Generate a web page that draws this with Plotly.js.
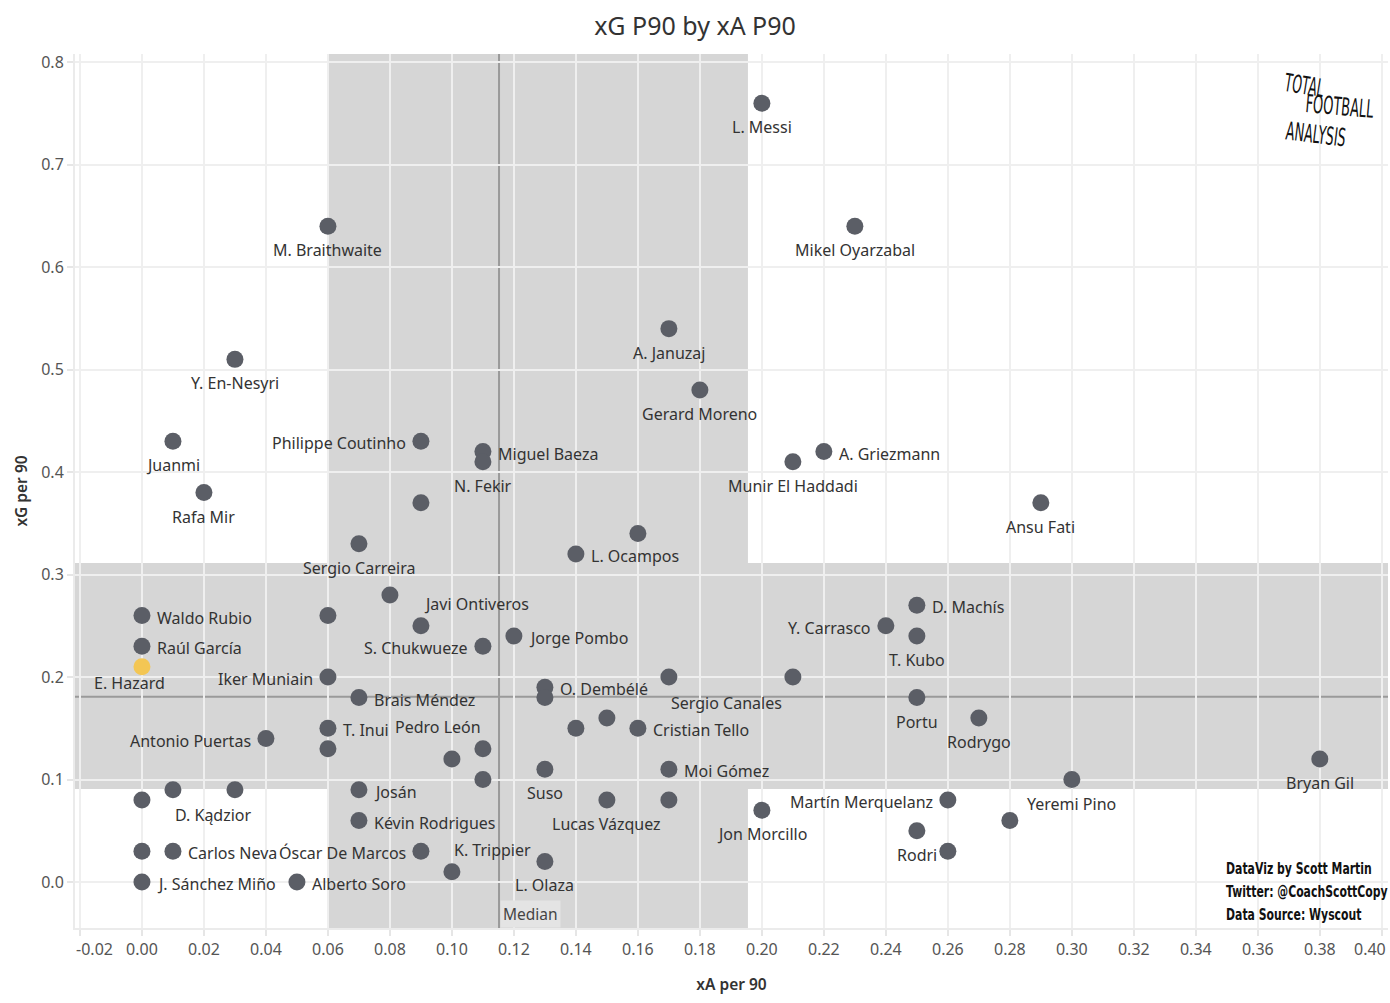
<!DOCTYPE html>
<html>
<head>
<meta charset="utf-8">
<script src="https://cdn.plot.ly/plotly-3.0.1.min.js"></script>
<style>
  html, body { margin: 0; padding: 0; background: #ffffff; }
  #chart { width: 1390px; height: 1003px; }
</style>
</head>
<body>
<div id="chart"></div>
<script>
// ---- Data ----
const players = [
  "L. Messi", "Mikel Oyarzabal", "M. Braithwaite", "A. Januzaj", "Y. En-Nesyri",
  "Gerard Moreno", "Juanmi", "Philippe Coutinho", "Miguel Baeza", "N. Fekir",
  "A. Griezmann", "Munir El Haddadi", "Rafa Mir", "Player 14", "Ansu Fati",
  "Player 16", "Sergio Carreira", "L. Ocampos", "Javi Ontiveros", "Waldo Rubio",
  "Player 21", "D. Machís", "Player 23", "Jorge Pombo", "Y. Carrasco",
  "T. Kubo", "Raúl García", "S. Chukwueze", "E. Hazard", "Iker Muniain",
  "Sergio Canales", "Player 32", "O. Dembélé", "Player 34", "Brais Méndez",
  "Portu", "Rodrygo", "T. Inui", "Pedro León", "Player 40",
  "Antonio Puertas", "Player 42", "Player 43", "Cristian Tello", "Player 45",
  "Player 47", "Suso", "Moi Gómez", "Bryan Gil", "Yeremi Pino",
  "D. Kądzior", "Player 53", "Josán", "Player 55", "Martín Merquelanz",
  "Lucas Vázquez", "Player 58", "Jon Morcillo", "Kévin Rodrigues", "Player 61",
  "Rodri", "Player 63", "Player 64", "Carlos Neva", "Óscar De Marcos",
  "K. Trippier", "L. Olaza", "J. Sánchez Miño", "Alberto Soro"
];
const xaP90 = [
  0.20, 0.23, 0.06, 0.17, 0.03,
  0.18, 0.01, 0.09, 0.11, 0.11,
  0.22, 0.21, 0.02, 0.09, 0.29,
  0.16, 0.07, 0.14, 0.08, 0.00,
  0.06, 0.25, 0.09, 0.12, 0.24,
  0.25, 0.00, 0.11, 0.00, 0.06,
  0.17, 0.21, 0.13, 0.13, 0.07,
  0.25, 0.27, 0.06, 0.11, 0.06,
  0.04, 0.14, 0.15, 0.16, 0.10,
  0.11, 0.13, 0.17, 0.38, 0.30,
  0.01, 0.03, 0.07, 0.00, 0.26,
  0.15, 0.17, 0.20, 0.07, 0.28,
  0.25, 0.26, 0.00, 0.01, 0.09,
  0.10, 0.13, 0.00, 0.05
];
const xgP90 = [
  0.76, 0.64, 0.64, 0.54, 0.51,
  0.48, 0.43, 0.43, 0.42, 0.41,
  0.42, 0.41, 0.38, 0.37, 0.37,
  0.34, 0.33, 0.32, 0.28, 0.26,
  0.26, 0.27, 0.25, 0.24, 0.25,
  0.24, 0.23, 0.23, 0.21, 0.20,
  0.20, 0.20, 0.19, 0.18, 0.18,
  0.18, 0.16, 0.15, 0.13, 0.13,
  0.14, 0.15, 0.16, 0.15, 0.12,
  0.10, 0.11, 0.11, 0.12, 0.10,
  0.09, 0.09, 0.09, 0.08, 0.08,
  0.08, 0.08, 0.07, 0.06, 0.06,
  0.05, 0.03, 0.03, 0.03, 0.03,
  0.01, 0.02, 0.00, 0.00
];
const highlighted = "E. Hazard";
const medianXA = 0.1152;
const medianXG = 0.1808;
const bandXA = [0.06, 0.1955];
const bandXG = [0.0907, 0.3112];
const xTickVals = [-0.02, 0.00, 0.02, 0.04, 0.06, 0.08, 0.10, 0.12, 0.14, 0.16, 0.18, 0.20, 0.22, 0.24, 0.26, 0.28, 0.30, 0.32, 0.34, 0.36, 0.38, 0.40];
const yTickVals = [0.0, 0.1, 0.2, 0.3, 0.4, 0.5, 0.6, 0.7, 0.8];
const creditLines = ["DataViz by Scott Martin", "Twitter: @CoachScottCopy", "Data Source: Wyscout"];
const logoLines = ["TOTAL", "FOOTBALL", "ANALYSIS"];

// ---- Label placement (style only) ----
const labelStyle = {
  "L. Messi": "b", "Mikel Oyarzabal": "b", "M. Braithwaite": "b", "A. Januzaj": "b",
  "Y. En-Nesyri": "b", "Gerard Moreno": "b", "Juanmi": "b", "Philippe Coutinho": "l",
  "Miguel Baeza": "r", "N. Fekir": "b", "A. Griezmann": "r", "Munir El Haddadi": "b",
  "Rafa Mir": "b", "Ansu Fati": "b", "Sergio Carreira": "b", "L. Ocampos": "r",
  "Javi Ontiveros": ["left", 32, 9], "Waldo Rubio": "r", "D. Machís": "r",
  "Jorge Pombo": "r", "Y. Carrasco": "l", "T. Kubo": "b", "Raúl García": "r",
  "S. Chukwueze": "l", "E. Hazard": ["center", -12, 16], "Iker Muniain": "l",
  "Sergio Canales": ["left", 0, 26], "O. Dembélé": "r", "Brais Méndez": "r",
  "Portu": "b", "Rodrygo": "b", "T. Inui": "r", "Pedro León": ["right", 0, -22],
  "Antonio Puertas": "l", "Cristian Tello": "r", "Suso": "b", "Moi Gómez": "r",
  "Bryan Gil": "b", "Yeremi Pino": "b", "D. Kądzior": ["left", 0, 25], "Josán": "r",
  "Martín Merquelanz": "l", "Lucas Vázquez": "b", "Jon Morcillo": "b",
  "Kévin Rodrigues": "r", "Rodri": "b", "Carlos Neva": "r", "Óscar De Marcos": "l",
  "K. Trippier": ["left", 0, -22], "L. Olaza": "b", "J. Sánchez Miño": "r", "Alberto Soro": "r"
};
const presets = { b: ["center", 0, 24], r: ["left", 13, 2], l: ["right", -13, 2] };

const baseFamily = "Noto Sans, Open Sans, sans-serif";
const labelFont = { family: baseFamily, size: 16, color: "#333333" };
const tickFont = { family: baseFamily, size: 16, color: "#555555" };

const annotations = [];
players.forEach((name, i) => {
  let st = labelStyle[name];
  if (!st) return;
  if (typeof st === "string") st = presets[st];
  annotations.push({
    xref: "x", yref: "y", x: xaP90[i], y: xgP90[i],
    text: name, showarrow: false,
    xanchor: st[0], yanchor: "middle",
    xshift: st[1], yshift: -st[2],
    font: labelFont
  });
});

// Median label
annotations.push({
  xref: "x", yref: "paper", x: medianXA, y: 0,
  xanchor: "left", yanchor: "bottom", xshift: 1,
  text: "Median", showarrow: false,
  bgcolor: "#e4e4e4", borderpad: 2,
  font: { family: baseFamily, size: 15.5, color: "#444444" }
});

// Edge tick labels are nudged inward (as the reference does) so they stay inside the figure
const nb = n => "\u00a0".repeat(n);
const lastTick = xTickVals[xTickVals.length - 1];
const xTickText = xTickVals.map((v, i) => {
  const s = v.toFixed(2);
  if (i === 0) return nb(7) + s;
  if (i === xTickVals.length - 1) return "";
  return s;
});
annotations.push({
  xref: "x", yref: "paper", x: lastTick, y: 0, xanchor: "right", yanchor: "top",
  xshift: 6, yshift: -8, text: lastTick.toFixed(2), showarrow: false, font: tickFont
});

// helpers: paper coords from pixel positions of the 1390x1003 figure
const PL = 75, PT = 54, PW = 1313, PH = 874;
const px = v => (v - PL) / PW;
const py = v => 1 - (v - PT) / PH;

// Logo (three tilted lines of narrow lettering)
const logoSpec = [[1304, 85, 9], [1339, 106, 5], [1316, 134, 7]];
const condense = {}; // text -> [targetWidth, origin]
const logoWidths = [40, 68, 60];
logoLines.forEach((t, k) => {
  annotations.push({
    xref: "paper", yref: "paper", x: px(logoSpec[k][0]), y: py(logoSpec[k][1]),
    xanchor: "center", yanchor: "middle", text: t, showarrow: false, textangle: logoSpec[k][2],
    font: { family: "DejaVu Sans, sans-serif", size: 25, color: "#111111" }
  });
  condense[t] = [logoWidths[k], "center"];
});

// Credits
creditLines.forEach((t, k) => {
  annotations.push({
    xref: "paper", yref: "paper", x: px(1224), y: py(868 + 23 * k),
    xanchor: "left", yanchor: "middle", text: t, showarrow: false,
    font: { family: "DejaVu Sans, sans-serif", size: 16, color: "#111111", weight: "bold" }
  });
});

const shapes = [
  { type: "rect", layer: "below", xref: "x", yref: "paper", x0: bandXA[0], x1: bandXA[1], y0: 0, y1: 1, fillcolor: "#d6d6d6", line: { width: 0 } },
  { type: "rect", layer: "below", xref: "paper", yref: "y", x0: 0, x1: 1, y0: bandXG[0], y1: bandXG[1], fillcolor: "#d6d6d6", line: { width: 0 } },
  { type: "line", layer: "between", xref: "x", yref: "paper", x0: 0, x1: 0, y0: 0, y1: 1, line: { color: "#c4c4c4", width: 1, dash: "3px,2px" } },
  { type: "line", layer: "between", xref: "paper", yref: "y", x0: 0, x1: 1, y0: 0, y1: 0, line: { color: "#c4c4c4", width: 1, dash: "3px,2px" } },
  { type: "line", layer: "between", xref: "x", yref: "paper", x0: medianXA, x1: medianXA, y0: 0, y1: 1, line: { color: "#9a9a9a", width: 2 } },
  { type: "line", layer: "between", xref: "paper", yref: "y", x0: 0, x1: 1, y0: medianXG, y1: medianXG, line: { color: "#9a9a9a", width: 2 } }
];

const trace = {
  type: "scatter", mode: "markers",
  x: xaP90, y: xgP90, text: players,
  hovertemplate: "%{text}<br>xA per 90: %{x:.2f}<br>xG per 90: %{y:.2f}<extra></extra>",
  marker: {
    size: 17,
    color: players.map(p => p === highlighted ? "#f3c654" : "#5b5e66"),
    line: { width: 0 }
  }
};

const layout = {
  width: 1390, height: 1003,
  margin: { l: 75, r: 2, t: 54, b: 75 },
  paper_bgcolor: "#ffffff", plot_bgcolor: "#ffffff",
  showlegend: false,
  title: { text: "xG P90 by xA P90", x: 0.5, xanchor: "center", y: 1 - 26 / 1003, yanchor: "middle",
           font: { family: baseFamily, size: 25, color: "#333333" } },
  xaxis: {
    range: [-0.0216, 0.402], tickvals: xTickVals, ticktext: xTickText,
    showgrid: true, gridcolor: "#efefef", gridwidth: 1.5, zeroline: false,
    showline: true, linecolor: "#ebebeb", linewidth: 2,
    ticks: "outside", ticklen: 6, tickcolor: "#e6e6e6", tickwidth: 2,
    tickfont: tickFont,
    title: { text: "xA per 90", standoff: 20, font: { family: baseFamily, size: 15.5, color: "#333333", weight: 600 } }
  },
  yaxis: {
    range: [-0.0449, 0.808], tickvals: yTickVals, tickformat: ".1f",
    showgrid: true, gridcolor: "#efefef", gridwidth: 1.5, zeroline: false,
    showline: true, linecolor: "#ebebeb", linewidth: 2,
    ticks: "outside", ticklen: 6, tickcolor: "#e6e6e6", tickwidth: 2,
    tickfont: tickFont,
    title: { text: "xG per 90", standoff: 10, font: { family: baseFamily, size: 15.5, color: "#333333", weight: 600 } }
  },
  shapes: shapes,
  annotations: annotations
};

Plotly.newPlot("chart", [trace], layout, { displayModeBar: false, responsive: false }).then(gd => {
  // Horizontally condense the credit and logo lettering to mimic the narrow display fonts
  const texts = Array.from(gd.querySelectorAll(".annotation-text"));
  const credEls = texts.filter(el => creditLines.includes(el.textContent));
  if (credEls.length) {
    const maxW = Math.max(...credEls.map(el => el.getBBox().width));
    const s = 162 / maxW;
    credEls.forEach(el => {
      el.style.transformBox = "fill-box";
      el.style.transformOrigin = "left center";
      el.style.transform = "scaleX(" + s + ")";
    });
  }
  texts.forEach(el => {
    const c = condense[el.textContent];
    if (!c) return;
    const s = c[0] / el.getBBox().width;
    el.style.transformBox = "fill-box";
    el.style.transformOrigin = c[1] + " center";
    el.style.transform = "scaleX(" + s + ")";
  });
});
</script>
</body>
</html>
